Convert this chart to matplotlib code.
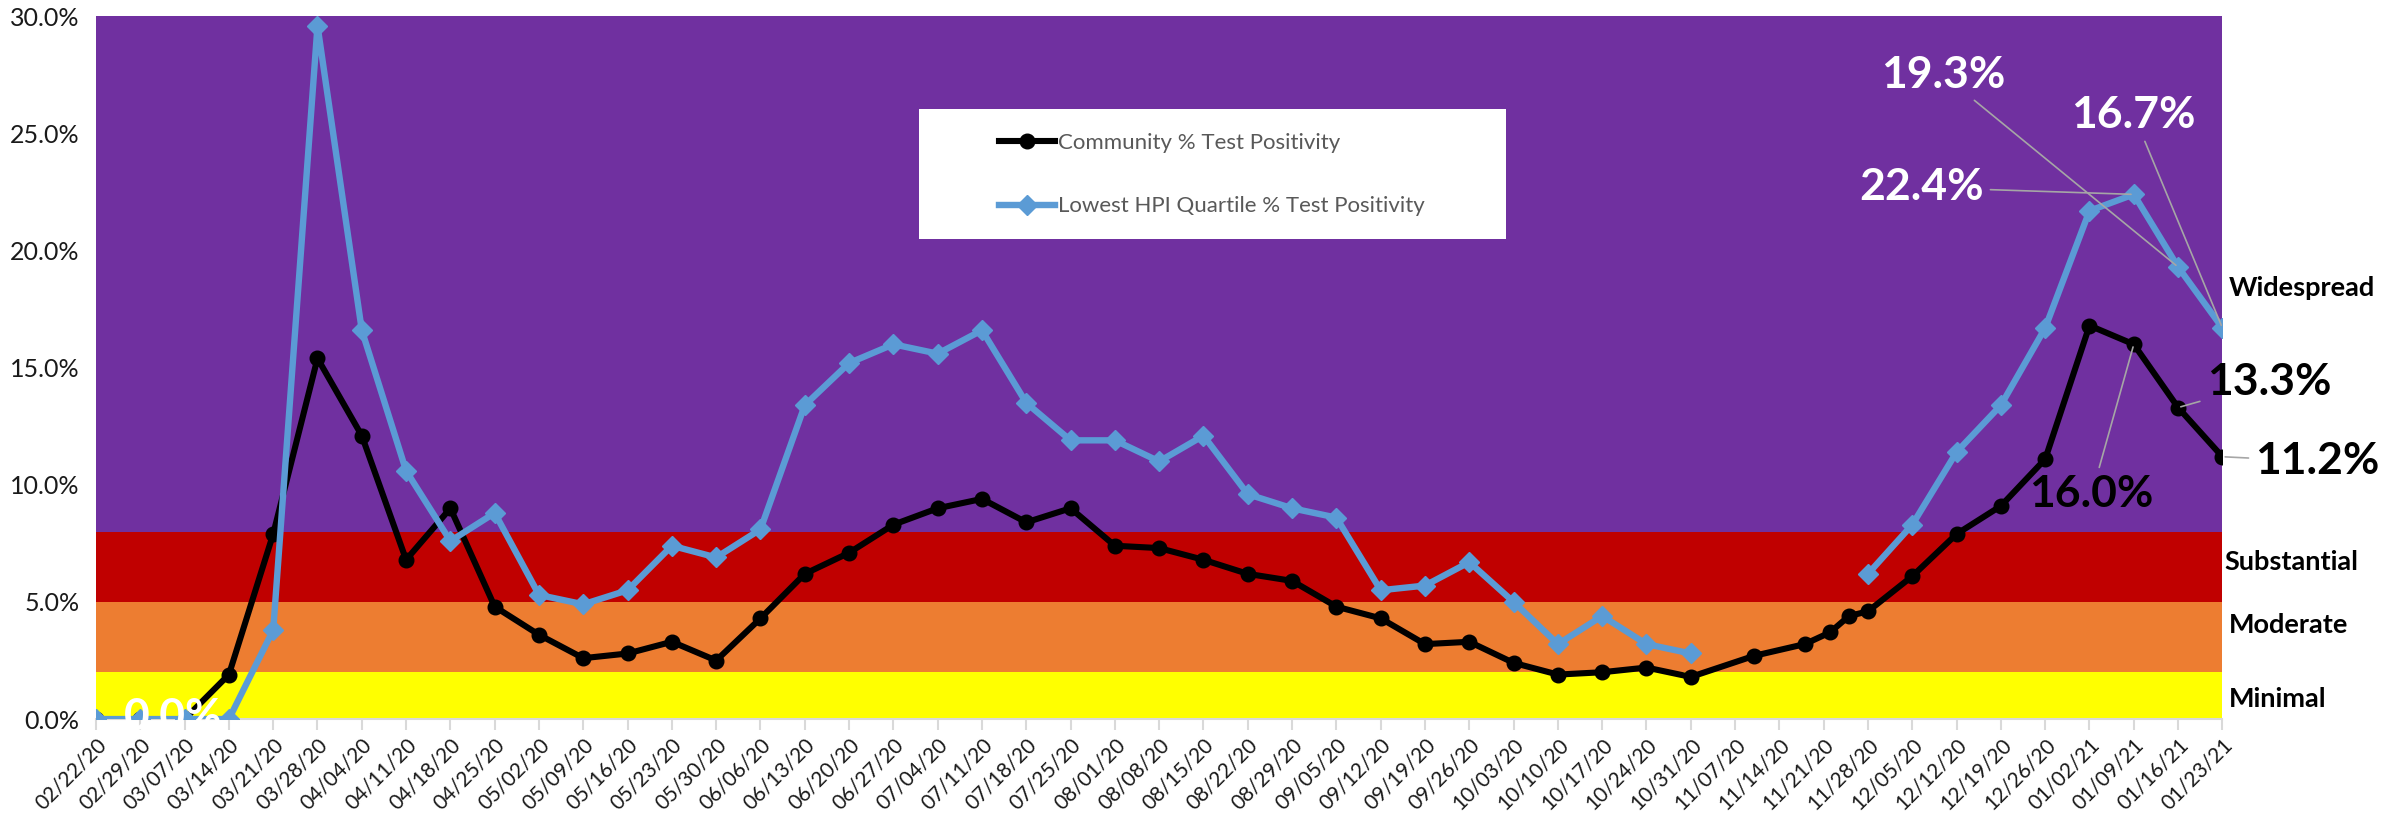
import matplotlib
matplotlib.use('Agg')
import numpy as np
import pandas as pd
import matplotlib.pyplot as plt
import matplotlib.dates as mdates
from matplotlib.patches import Rectangle

plt.rcParams['font.family'] = ['Lato', 'DejaVu Sans']

# weekly category labels on the x axis
week_labels = ['02/22/20', '02/29/20', '03/07/20', '03/14/20', '03/21/20', '03/28/20',
               '04/04/20', '04/11/20', '04/18/20', '04/25/20', '05/02/20', '05/09/20',
               '05/16/20', '05/23/20', '05/30/20', '06/06/20', '06/13/20', '06/20/20',
               '06/27/20', '07/04/20', '07/11/20', '07/18/20', '07/25/20', '08/01/20',
               '08/08/20', '08/15/20', '08/22/20', '08/29/20', '09/05/20', '09/12/20',
               '09/19/20', '09/26/20', '10/03/20', '10/10/20', '10/17/20', '10/24/20',
               '10/31/20', '11/07/20', '11/14/20', '11/21/20', '11/28/20', '12/05/20',
               '12/12/20', '12/19/20', '12/26/20', '01/02/21', '01/09/21', '01/16/21',
               '01/23/21']

# community series (some dates in November are not on the weekly grid)
community_dates = week_labels[:37] + ['11/10/20', '11/18/20', '11/22/20', '11/25/20',
                                      '11/28/20'] + week_labels[41:]
community_pct = [0.0, 0.0, 0.0, 1.9, 7.9, 15.4, 12.1, 6.8, 9.0, 4.8, 3.6, 2.6, 2.8, 3.3,
                 2.5, 4.3, 6.2, 7.1, 8.3, 9.0, 9.4, 8.4, 9.0, 7.4, 7.3, 6.8, 6.2, 5.9,
                 4.8, 4.3, 3.2, 3.3, 2.4, 1.9, 2.0, 2.2, 1.8,
                 2.7, 3.2, 3.7, 4.4, 4.6,
                 6.1, 7.9, 9.1, 11.1, 16.8, 16.0, 13.3, 11.2]

# lowest HPI quartile series (gap in November)
hpi_dates = week_labels
hpi_pct = [0.0, 0.0, 0.0, 0.0, 3.8, 29.6, 16.6, 10.6, 7.6, 8.8, 5.3, 4.9, 5.5, 7.4,
           6.9, 8.1, 13.4, 15.2, 16.0, 15.6, 16.6, 13.5, 11.9, 11.9, 11.0, 12.1, 9.6,
           9.0, 8.6, 5.5, 5.7, 6.7, 5.0, 3.2, 4.4, 3.2, 2.8, np.nan, np.nan, np.nan,
           6.2, 8.3, 11.4, 13.4, 16.7, 21.7, 22.4, 19.3, 16.7]

# risk tiers
tier_names = ['Minimal', 'Moderate', 'Substantial', 'Widespread']
tier_bounds = [0, 2, 5, 8, 30]
tier_colors = ['#FFFF00', '#ED7D31', '#C00000', '#7030A0']


def to_num(labels):
    return mdates.date2num(pd.to_datetime(labels, format='%m/%d/%y'))


wk_x = to_num(week_labels)
com_x = to_num(community_dates)
hpi_x = to_num(hpi_dates)
start = wk_x[0]


def wk(w):
    # position w weeks after the first date
    return start + 7 * w


fig = plt.figure(figsize=(24, 8.19), dpi=100)
ax = fig.add_axes([0.04, 0.122, 0.886, 0.858])

for lo, hi, c in zip(tier_bounds[:-1], tier_bounds[1:], tier_colors):
    ax.axhspan(lo / 100, hi / 100, color=c, zorder=0, lw=0)

ax.plot(com_x, np.array(community_pct) / 100, color='black', lw=4.4, marker='o',
        ms=10.5, zorder=3, label='Community % Test Positivity')
ax.plot(hpi_x, np.array(hpi_pct) / 100, color='#5B9BD5', lw=4.6, marker='D',
        ms=10, zorder=4, label='Lowest HPI Quartile % Test Positivity')

ax.set_xlim(wk_x[0], wk_x[-1])
ax.set_ylim(0, 0.30)
ax.set_yticks(np.arange(0, 0.301, 0.05))
ax.set_yticklabels([f'{v:.1f}%' for v in np.arange(0, 30.1, 5)], fontsize=18,
                   color='#1a1a1a')
ax.set_xticks(wk_x)
ax.set_xticklabels(week_labels, rotation=45, ha='right', rotation_mode='anchor',
                   fontsize=15, color='#1a1a1a')
ax.tick_params(axis='y', length=0, pad=12)
ax.tick_params(axis='x', length=8, width=1.5, color='#d9d9d9', pad=3)
for s in ['top', 'right', 'left']:
    ax.spines[s].set_visible(False)
ax.spines['bottom'].set_color('#d9d9d9')
ax.spines['bottom'].set_linewidth(1.5)

# legend box
ax.add_patch(Rectangle((0.387, 0.683), 0.276, 0.185, transform=ax.transAxes,
                       facecolor='white', edgecolor='none', zorder=5))
leg = ax.legend(loc='upper left', bbox_to_anchor=(0.4245, 0.834), frameon=False,
                fontsize=16, labelspacing=1.95, handlelength=2.55, handletextpad=0.1,
                borderpad=0, borderaxespad=0)
leg.set_zorder(6)
for t in leg.get_texts():
    t.set_color('#595959')

# data labels
lead = dict(arrowstyle='-', color='#a6a6a6', lw=1.2, shrinkA=3, shrinkB=2)
big = dict(fontsize=32, fontweight='bold', ha='center', va='center')
ax.text(wk(1.75), 0.001, '0.0%', color='white', zorder=5, **big)
ax.annotate('22.4%', xy=(hpi_x[46], 0.224), xytext=(wk(41.2), 0.227),
            color='white', arrowprops=lead, zorder=6, **big)
ax.annotate('19.3%', xy=(hpi_x[47], 0.193), xytext=(wk(41.7), 0.275),
            color='white', arrowprops=lead, zorder=6, **big)
ax.annotate('16.7%', xy=(hpi_x[48], 0.167), xytext=(wk(46.0), 0.258),
            color='white', arrowprops=lead, zorder=6, **big)
ax.annotate('16.0%', xy=(com_x[47], 0.160), xytext=(wk(45.05), 0.096),
            color='black', arrowprops=lead, zorder=6, annotation_clip=False, **big)
ax.annotate('13.3%', xy=(com_x[48], 0.133), xytext=(wk(49.05), 0.144),
            color='black', arrowprops=lead, zorder=6, annotation_clip=False, **big)
ax.annotate('11.2%', xy=(com_x[49], 0.112), xytext=(wk(50.15), 0.110),
            color='black', arrowprops=lead, zorder=6, annotation_clip=False, **big)

# tier labels on the right
tier_label_y = [0.85, 4.0, 6.7, 18.4]
tier_label_x = [48.15, 48.15, 48.05, 48.15]
for name, xv, yv in zip(tier_names, tier_label_x, tier_label_y):
    ax.text(wk(xv), yv / 100, name, fontsize=19.5, fontweight='bold', ha='left',
            va='center', color='black', clip_on=False)

fig.savefig('out.png', dpi=100)
